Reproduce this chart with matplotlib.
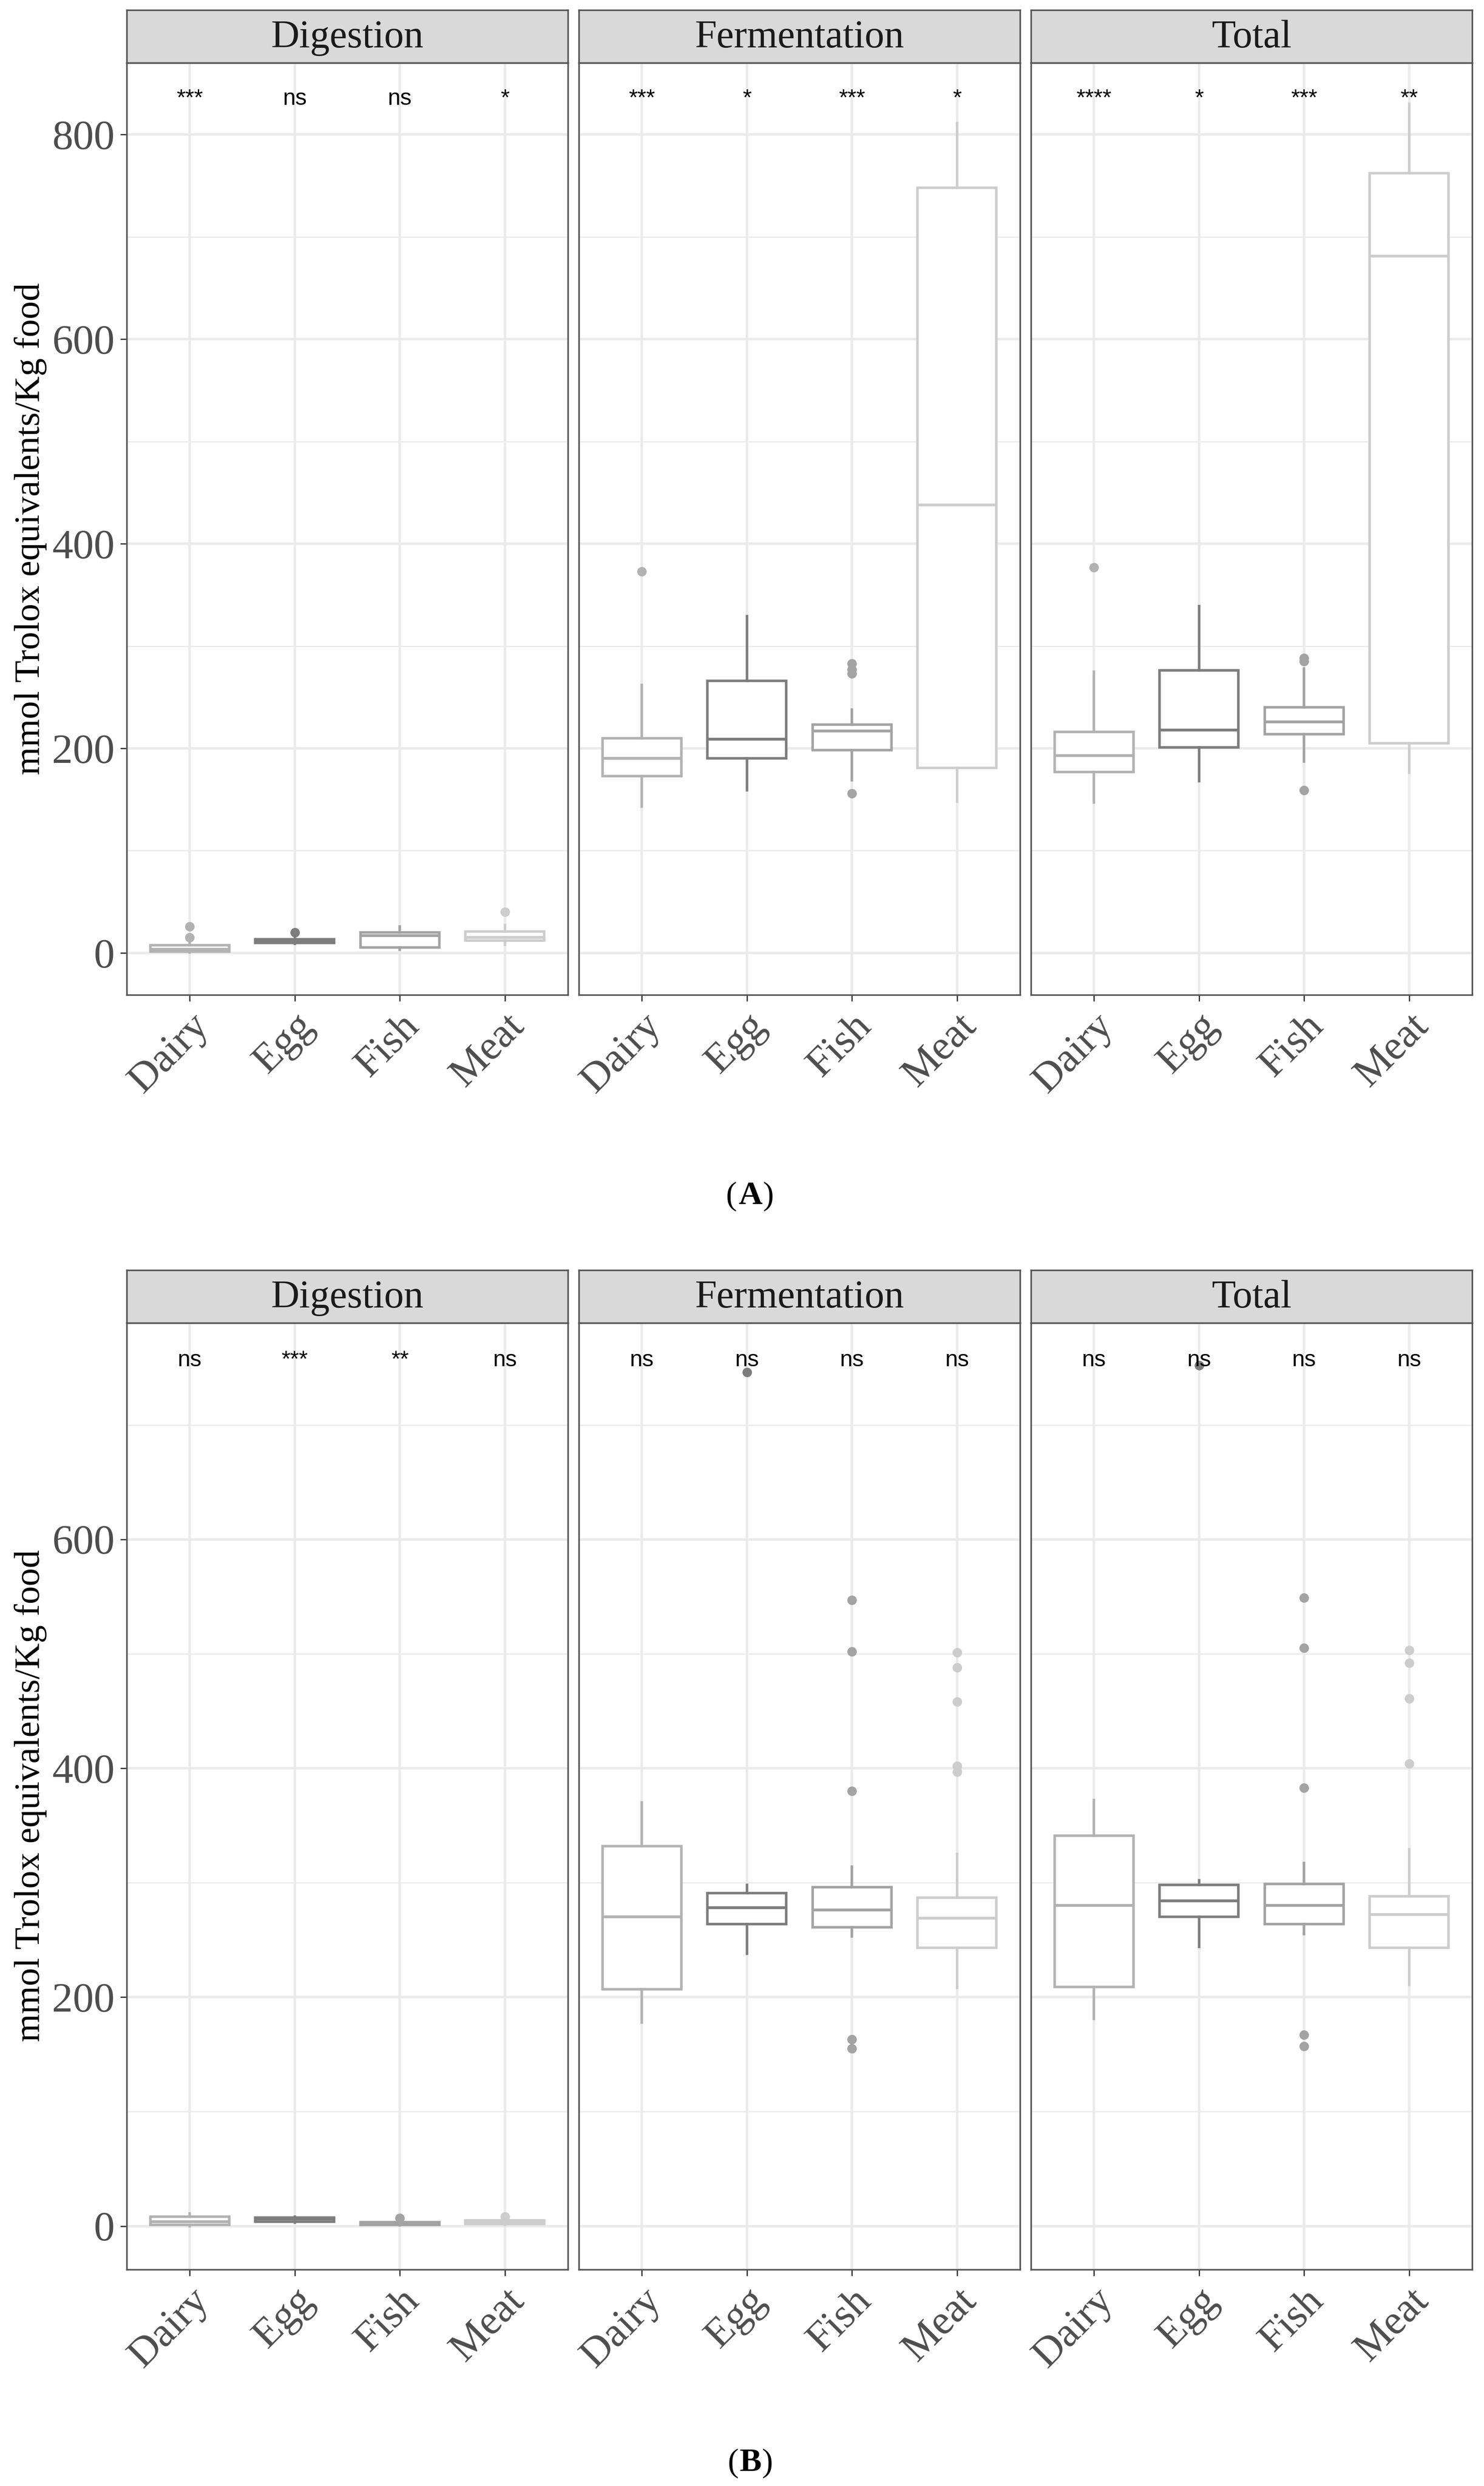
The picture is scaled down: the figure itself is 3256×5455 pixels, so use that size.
import numpy as np
import matplotlib.pyplot as plt

# categories and facets
groups = ["Dairy", "Egg", "Fish", "Meat"]
stages = ["Digestion", "Fermentation", "Total"]

# box stats per group: [whisker low, q1, median, q3, whisker high]
# panel (A)
a_dig_stats = [[0.5, 1.5, 3.5, 7.5, 10], [9, 10, 11.5, 13.5, 15], [3, 5.5, 17, 20, 26], [8, 12, 15, 21, 27]]
a_dig_fliers = [[15, 26], [20], [], [40]]
a_fer_stats = [[143, 173, 190, 210, 262], [159, 190, 209, 266, 329], [169, 198, 217, 223, 238], [148, 181, 438, 748, 811]]
a_fer_fliers = [[373], [], [156, 273, 277, 283], []]
a_tot_stats = [[147, 177, 193, 216, 275], [168, 201, 218, 276, 339], [187, 214, 226, 240, 278], [176, 205, 681, 762, 830]]
a_tot_fliers = [[377], [], [159, 285, 288], []]
a_dig_sig = ["***", "ns", "ns", "*"]
a_fer_sig = ["***", "*", "***", "*"]
a_tot_sig = ["****", "*", "***", "**"]

# panel (B)
b_dig_stats = [[0, 1, 4, 8, 11], [3, 4, 6, 7.5, 8], [0.5, 1, 2, 3.5, 4.5], [1, 2, 3.5, 5, 6]]
b_dig_fliers = [[], [], [7], [8]]
b_fer_stats = [[178, 207, 270, 332, 370], [238, 264, 278, 291, 298], [253, 261, 276, 296, 314], [208, 243, 269, 287, 325]]
b_fer_fliers = [[], [746], [155, 163, 380, 502, 547], [397, 402, 458, 488, 501]]
b_tot_stats = [[181, 209, 280, 341, 372], [244, 270, 284, 298, 302], [255, 264, 280, 299, 317], [211, 243, 272, 288, 329]]
b_tot_fliers = [[], [752], [157, 167, 383, 505, 549], [404, 461, 492, 503]]
b_dig_sig = ["ns", "***", "**", "ns"]
b_fer_sig = ["ns", "ns", "ns", "ns"]
b_tot_sig = ["ns", "ns", "ns", "ns"]

a_major = [0, 200, 400, 600, 800]
a_minor = [100, 300, 500, 700]
b_major = [0, 200, 400, 600]
b_minor = [100, 300, 500, 700]

colors = ["#b2b2b2", "#7d7d7d", "#a3a3a3", "#cdcdcd"]

W, H = 3256, 5455
fig = plt.figure(figsize=(W / 100, H / 100), dpi=100)

serif = "Liberation Serif"
sans = "Liberation Sans"


def px_axes(left, top, width, height):
    return fig.add_axes([left / W, 1 - (top + height) / H, width / W, height / H])


def draw_panel(left, top, bottom, stats, fliers, sig, sig_y, ylim, major, minor, stage, first):
    # strip on top
    sax = px_axes(left, top - 116, 968, 116)
    sax.set_facecolor("#d9d9d9")
    sax.set_xticks([])
    sax.set_yticks([])
    for sp in sax.spines.values():
        sp.set_color("#555555")
        sp.set_linewidth(2.5)
    sax.text(0.5, 0.47, stage, transform=sax.transAxes, ha="center", va="center",
             fontsize=62, family=serif, color="#1a1a1a")

    ax = px_axes(left, top, 968, bottom - top)
    ax.set_axisbelow(True)
    for i in range(4):
        lo, q1, med, q3, hi = stats[i]
        c = colors[i]
        ax.bxp([dict(whislo=lo, q1=q1, med=med, q3=q3, whishi=hi, fliers=fliers[i])],
               positions=[i + 1], widths=0.75, showcaps=False, patch_artist=True,
               boxprops=dict(facecolor="white", edgecolor=c, linewidth=4),
               medianprops=dict(color=c, linewidth=4.5),
               whiskerprops=dict(color=c, linewidth=4),
               flierprops=dict(marker="o", markerfacecolor=c, markeredgecolor=c, markersize=14))
        ax.text(i + 1, sig_y, sig[i], ha="center", va="baseline", fontsize=36, family=sans,
                color="black", zorder=5)

    ax.set_xlim(0.4, 4.6)
    ax.set_ylim(*ylim)
    ax.set_xticks([1, 2, 3, 4])
    ax.set_xticklabels(groups, rotation=45, ha="right", va="top", rotation_mode="anchor",
                       fontsize=66, family=serif, color="#4d4d4d")
    ax.set_yticks(major)
    ax.set_yticks(minor, minor=True)
    if first:
        ax.set_yticklabels([str(v) for v in major], fontsize=66, family=serif, color="#4d4d4d")
    else:
        ax.set_yticklabels([])
    ax.tick_params(which="major", length=10, width=2, color="#333333", pad=9)
    if not first:
        ax.tick_params(axis="y", which="major", length=0)
    ax.tick_params(which="minor", length=0)
    ax.grid(which="major", color="#ebebeb", linewidth=4)
    ax.grid(which="minor", axis="y", color="#ebebeb", linewidth=2)
    for sp in ax.spines.values():
        sp.set_color("#555555")
        sp.set_linewidth(2.5)
    return ax


lefts = [278, 1270, 2262]

a_sets = [(a_dig_stats, a_dig_fliers, a_dig_sig), (a_fer_stats, a_fer_fliers, a_fer_sig),
          (a_tot_stats, a_tot_fliers, a_tot_sig)]
b_sets = [(b_dig_stats, b_dig_fliers, b_dig_sig), (b_fer_stats, b_fer_fliers, b_fer_sig),
          (b_tot_stats, b_tot_fliers, b_tot_sig)]

for k in range(3):
    st, fl, sg = a_sets[k]
    draw_panel(lefts[k], 138, 2183, st, fl, sg, 829, (-41, 870), a_major, a_minor, stages[k], k == 0)
    st, fl, sg = b_sets[k]
    draw_panel(lefts[k], 2903, 4980, st, fl, sg, 751, (-38, 789), b_major, b_minor, stages[k], k == 0)

ylab = "mmol Trolox equivalents/Kg food"
fig.text(67 / W, 1 - 1160 / H, ylab, rotation=90, ha="center", va="center", fontsize=57,
         family=serif, color="black")
fig.text(67 / W, 1 - 3940 / H, ylab, rotation=90, ha="center", va="center", fontsize=57,
         family=serif, color="black")

# panel tags: normal parentheses around a bold letter
for letter, cy, xs in [("A", 2625, (1605, 1646, 1686)), ("B", 5405, (1609, 1647, 1684))]:
    fig.text(xs[0] / W, 1 - cy / H, "(", ha="center", va="center", fontsize=52, family=serif)
    fig.text(xs[1] / W, 1 - cy / H, letter, ha="center", va="center", fontsize=52,
             family=serif, fontweight="bold")
    fig.text(xs[2] / W, 1 - cy / H, ")", ha="center", va="center", fontsize=52, family=serif)

fig.savefig("out.png", dpi=100, facecolor="white")
